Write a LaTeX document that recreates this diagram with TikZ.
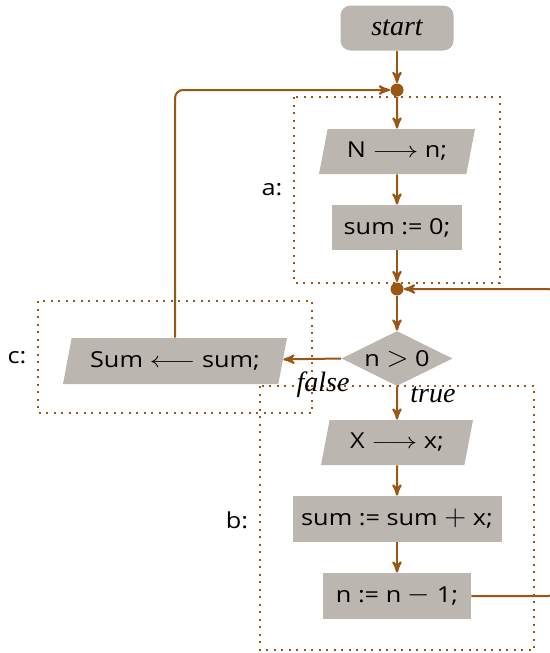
\documentclass[tikz,border=0pt]{standalone}
\usepackage{amsmath, amssymb}
\usepackage{fontspec}
\setsansfont{Open Sans}[FakeStretch=1.15]
\newfontfamily\labelfont{Liberation Serif}
\usepackage{tikz}
\usetikzlibrary{arrows, positioning, shapes}

\definecolor{flowbrown}{RGB}{153,86,20}
\definecolor{boxgray}{RGB}{188,182,177}

\newcommand{\longto}{\scalebox{1.3}[1]{$\longrightarrow$}}
\newcommand{\longfrom}{\scalebox{1.3}[1]{$\longleftarrow$}}
\newcommand{\opsym}[1]{{\fontsize{13.5}{13}\selectfont$#1$}}

\begin{document}
\begin{tikzpicture}[%
        x=0.5pt, y=-0.5pt,
        >=stealth',
        every node/.style={font=\sffamily\fontsize{11}{13}\selectfont},
        term/.style={rectangle, rounded corners=5pt, fill=boxgray, minimum width=56.5pt, minimum height=22.5pt,
            font=\labelfont\itshape\fontsize{14}{16}\selectfont},
        box/.style={rectangle, fill=boxgray, minimum height=22.5pt, inner sep=2pt},
        io/.style={trapezium, trapezium left angle=72, trapezium right angle=108, trapezium stretches body,
            fill=boxgray, minimum height=22.5pt, inner sep=2pt},
        test/.style={diamond, fill=boxgray, aspect=2, inner sep=0pt, minimum width=55.5pt, minimum height=27.5pt},
        dot/.style={circle, fill=flowbrown, inner sep=0pt, minimum size=6.5pt},
        flow/.style={draw=flowbrown, line width=1pt},
        group/.style={draw=flowbrown, line width=1pt, dash pattern=on 1pt off 2.75pt},
        lbl/.style={font=\labelfont\itshape\fontsize{14}{16}\selectfont}
    ]
    \useasboundingbox (0,0) rectangle (550,653);

    % --- Nodes ---
    \node[term] (start) at (397,28) {start};
    \node[dot] (j1) at (397,90) {};
    \node[io, minimum width=78pt] (readn) at (397,151.5) {N \longto{} n;};
    \node[box, minimum width=65pt] (init) at (397,227.5) {sum := 0;};
    \node[dot] (j2) at (397,289) {};
    \node[test] (cond) at (397,358.5) {n \opsym{>} 0};
    \node[io, minimum width=112pt, minimum height=23pt] (write) at (175,361) {Sum \longfrom{} sum;};
    \node[io, minimum width=76pt] (readx) at (397,442.5) {X \longto{} x;};
    \node[box, minimum width=104.5pt, minimum height=23pt] (add) at (397,519) {sum := sum \opsym{+} x;};
    \node[box, minimum width=74pt, minimum height=23pt] (dec) at (397,596) {n := n \opsym{-} 1;};
    \coordinate (right) at (556,0);

    % --- Groups ---
    \draw[group] (294,97) rectangle (500,283);
    \draw[group] (38,301) rectangle (312,413);
    \draw[group] (260,386) rectangle (534,650);
    \node (la) at (272,190) {a:};
    \node (lb) at (237,520) {b:};
    \node (lc) at (17,358) {c:};

    % --- Connectors ---
    \draw[flow, ->] (start) -- (j1);
    \draw[flow, ->] (j1) -- (readn);
    \draw[flow, ->] (readn) -- (init);
    \draw[flow, ->] (init) -- (j2);
    \draw[flow, ->] (j2) -- (cond);
    \draw[flow, ->] (cond.south) -- (readx);
    \draw[flow, ->] (readx) -- (add);
    \draw[flow, ->] (add) -- (dec);
    \draw[flow, ->] (cond.west) -- (write);
    \draw[flow, ->, rounded corners=4pt] (write.north) |- (j1);
    \draw[flow, ->, rounded corners=4pt] (dec.east) -- (dec.east -| right) |- (j2);
    \node[lbl] (lfalse) at (323,385) {false};
    \node[lbl] (ltrue) at (433,395) {true};
\end{tikzpicture}
\end{document}
